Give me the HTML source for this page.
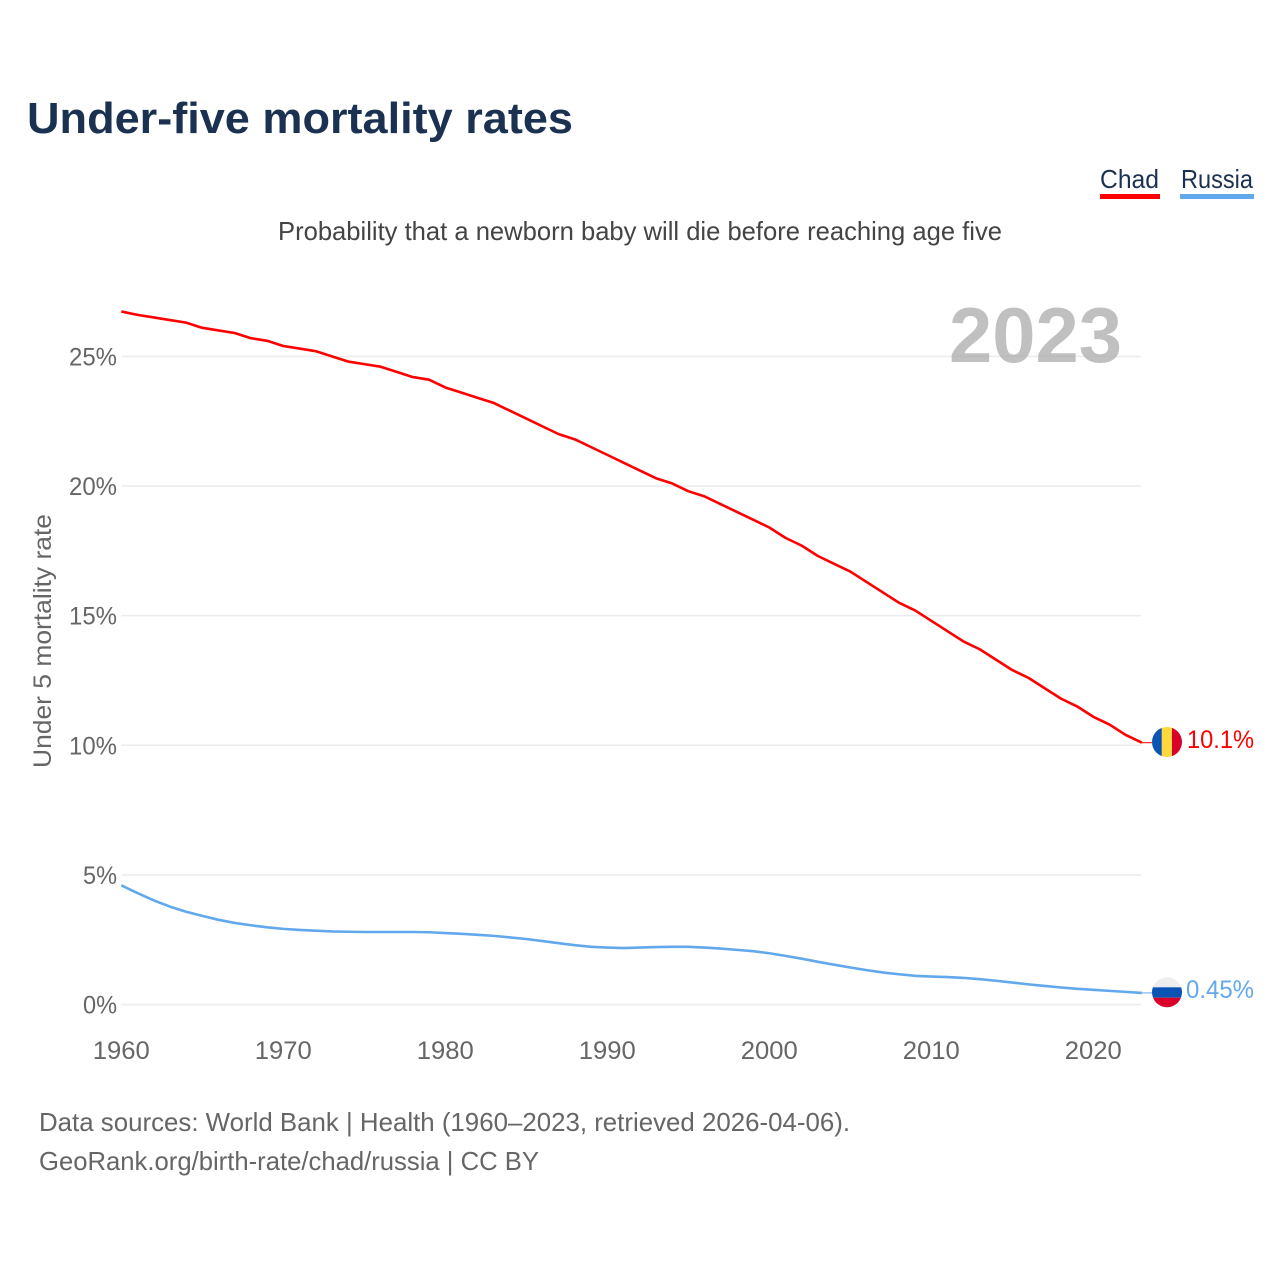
<!DOCTYPE html>
<html lang="en">
<head>
<meta charset="utf-8">
<title>Under-five mortality rates</title>
<style>
html,body{margin:0;padding:0;background:#fff;}
svg{display:block;}
text{font-family:"Liberation Sans",sans-serif;}
</style>
</head>
<body>
<svg id="chart" xmlns="http://www.w3.org/2000/svg" width="1280" height="1280" viewBox="0 0 1280 1280">
  <defs>
    <clipPath id="clip-chad"><circle cx="1167" cy="742" r="15"/></clipPath>
    <clipPath id="clip-russia"><circle cx="1167" cy="992.3" r="15"/></clipPath>
  </defs>
  <rect width="1280" height="1280" fill="#fff"/>
  <text x="27" y="133" font-size="44" font-weight="700" fill="#1b3151" textLength="546" lengthAdjust="spacingAndGlyphs">Under-five mortality rates</text>
  <text x="1100" y="188" font-size="26" fill="#1b3151" textLength="59" lengthAdjust="spacingAndGlyphs">Chad</text>
  <rect x="1100" y="194" width="60" height="5" fill="#ff0000"/>
  <text x="1181" y="188" font-size="26" fill="#1b3151" textLength="72" lengthAdjust="spacingAndGlyphs">Russia</text>
  <rect x="1180" y="194" width="74" height="5" fill="#62a8ec"/>
  <text x="278" y="240" font-size="26" fill="#444" textLength="724" lengthAdjust="spacingAndGlyphs">Probability that a newborn baby will die before reaching age five</text>
  <g id="grid"></g>
  <text x="949" y="362" font-size="78" font-weight="700" fill="#a8a8a8" fill-opacity="0.72" textLength="173" lengthAdjust="spacingAndGlyphs">2023</text>
  <g id="yticks"></g>
  <g id="xticks"></g>
  <text transform="translate(51 768) rotate(-90)" x="0" y="0" font-size="25" fill="#666" textLength="254" lengthAdjust="spacingAndGlyphs">Under 5 mortality rate</text>
  <g id="series"></g>

  <g clip-path="url(#clip-chad)">
    <rect x="1152" y="727" width="10" height="30" fill="#0b54b4"/>
    <rect x="1161.7" y="727" width="10.3" height="30" fill="#ffd83d"/>
    <rect x="1172" y="727" width="10" height="30" fill="#d9002a"/>
  </g>
  <text x="1187" y="748" font-size="25" fill="#ff0000" textLength="67" lengthAdjust="spacingAndGlyphs">10.1%</text>

  <g clip-path="url(#clip-russia)">
    <rect x="1152" y="977" width="30" height="10.3" fill="#eeeeee"/>
    <rect x="1152" y="987.3" width="30" height="10.4" fill="#0b54b4"/>
    <rect x="1152" y="997.7" width="30" height="10" fill="#d9002a"/>
  </g>
  <text x="1186" y="998" font-size="25" fill="#62a8ec" textLength="68" lengthAdjust="spacingAndGlyphs">0.45%</text>

  <text x="39" y="1131" font-size="26" fill="#666" textLength="811" lengthAdjust="spacingAndGlyphs">Data sources: World Bank | Health (1960–2023, retrieved 2026-04-06).</text>
  <text x="39" y="1170" font-size="26" fill="#666" textLength="500" lengthAdjust="spacingAndGlyphs">GeoRank.org/birth-rate/chad/russia | CC BY</text>
</svg>
<script>
const startYear = 1960;
const chadValues = [26.73,26.6,26.5,26.4,26.3,26.1,26.0,25.9,25.7,25.6,25.4,25.3,25.2,25.0,24.8,24.7,24.6,24.4,24.2,24.1,23.8,23.6,23.4,23.2,22.9,22.6,22.3,22.0,21.8,21.5,21.2,20.9,20.6,20.3,20.1,19.8,19.6,19.3,19.0,18.7,18.4,18.0,17.7,17.3,17.0,16.7,16.3,15.9,15.5,15.2,14.8,14.4,14.0,13.7,13.3,12.9,12.6,12.2,11.8,11.5,11.1,10.8,10.4,10.1];
const russiaValues = [4.6,4.3,4.02,3.78,3.58,3.42,3.27,3.15,3.06,2.98,2.92,2.88,2.85,2.82,2.81,2.80,2.80,2.80,2.80,2.79,2.76,2.73,2.69,2.65,2.59,2.53,2.45,2.37,2.29,2.23,2.20,2.18,2.20,2.22,2.23,2.23,2.20,2.16,2.11,2.06,1.98,1.88,1.77,1.65,1.54,1.43,1.33,1.24,1.17,1.11,1.08,1.06,1.03,0.98,0.92,0.85,0.78,0.72,0.66,0.61,0.57,0.53,0.49,0.45];
const yTickValues = [0,5,10,15,20,25];
const xTickYears = [1960,1970,1980,1990,2000,2010,2020];

const NS = 'http://www.w3.org/2000/svg';
function xScale(year){ return 121.3 + (year - 1960) * 16.2; }
function yScale(v){ return 1004.6 - v * 25.93; }
function make(tag, attrs){
  const el = document.createElementNS(NS, tag);
  for (const k in attrs) el.setAttribute(k, attrs[k]);
  return el;
}

const grid = document.getElementById('grid');
const yticks = document.getElementById('yticks');
yTickValues.forEach(function(v){
  const line = make('line', {x1:121.5, x2:1141, y1:yScale(v), y2:yScale(v), stroke:'#ebebeb', 'stroke-width':1.5});
  
  
  grid.appendChild(line);
  const label = make('text', {x:117, y:yScale(v) + 9, 'font-size':25, fill:'#666', 'text-anchor':'end', textLength:(v < 10 ? 34 : 48), lengthAdjust:'spacingAndGlyphs'});
  
  
  label.textContent = v + '%';
  yticks.appendChild(label);
});

const xticks = document.getElementById('xticks');
xTickYears.forEach(function(year){
  const label = make('text', {x:xScale(year), y:1059, 'font-size':25, fill:'#666', 'text-anchor':'middle', textLength:57, lengthAdjust:'spacingAndGlyphs'});
  
  
  label.textContent = year;
  xticks.appendChild(label);
});

const series = document.getElementById('series');
function drawSeries(values, color, name){
  const pts = values.map(function(v, i){ return xScale(startYear + i).toFixed(2) + ',' + yScale(v).toFixed(2); });
  const path = make('polyline', {points:pts.join(' '), fill:'none', stroke:color, 'stroke-width':2.6, 'stroke-linejoin':'round'});
  
  
  series.appendChild(path);
  const lastY = yScale(values[values.length - 1]);
  const leader = make('line', {x1:xScale(startYear + values.length - 1), x2:1152, y1:lastY, y2:lastY, stroke:color, 'stroke-width':1});
  
  
  series.appendChild(leader);
}
drawSeries(chadValues, '#ff0000', 'chad-line');
drawSeries(russiaValues, '#62a8ec', 'russia-line');
</script>
</body>
</html>
